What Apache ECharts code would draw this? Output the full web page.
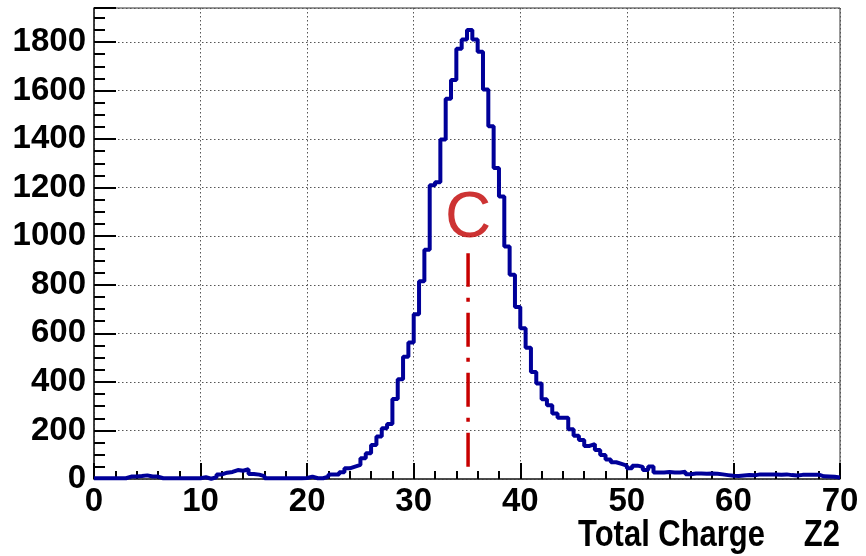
<!DOCTYPE html>
<html>
<head>
<meta charset="utf-8">
<script src="https://cdn.jsdelivr.net/npm/echarts@6/dist/echarts.min.js"></script>
<style>
html,body{margin:0;padding:0;background:#fff;}
#chart{width:866px;height:556px;}
</style>
</head>
<body>
<div id="chart"></div>
<script>
// ---- data ----
const xMin = 0;
const xMax = 70;
const binWidth = 0.5;
const counts = [
  3,3,3,3,3,3,10,10,12,15,
  10,10,3,3,3,3,3,3,3,3,
  7,1,7,19,26,29,37,34,40,21,
  18,12,3,3,3,3,3,3,3,4,
  10,3,3,10,19,19,28,44,51,58,
  85,106,140,175,209,227,330,411,504,562,
  679,814,944,1210,1222,1398,1566,1643,1772,1810,
  1849,1810,1760,1604,1453,1281,1164,958,841,708,
  621,541,441,393,328,304,270,252,252,205,
  178,161,136,144,119,99,80,69,62,55,
  44,55,50,37,51,27,27,29,27,27,
  30,20,23,23,22,23,22,19,16,13,
  12,14,16,15,19,19,19,19,18,19,
  16,14,17,18,17,18,11,10,9,6
];
const yMax = 1940;
const markerX = 35.1;
const markerRange = [50, 930];
const markerLabel = 'C';
const markerLabelY = 1070;
const xTitle = 'Total Charge';
const xUnit = 'Z2';

// ---- build ----
const histData = counts.map((v, i) => [xMin + i * binWidth, v]);
histData.push([xMax, counts[counts.length - 1]]);

const labelFont = {fontFamily: '"Liberation Sans", Arial, sans-serif', fontWeight: 'bold', fontSize: 33, color: '#000'};
const titleFont = 'bold 36px "Liberation Sans", Arial, sans-serif';

const chart = echarts.init(document.getElementById('chart'), null, {renderer: 'canvas'});
chart.setOption({
  animation: false,
  backgroundColor: '#fff',
  grid: {left: 94, right: 26, top: 8, bottom: 77, show: true, borderColor: '#333', borderWidth: 1, backgroundColor: 'transparent'},
  xAxis: {
    type: 'value', min: xMin, max: xMax, interval: 10,
    axisLine: {show: true, onZero: false, lineStyle: {color: '#333', width: 1.5}},
    axisTick: {show: true, inside: true, length: 16, lineStyle: {color: '#000', width: 2}},
    minorTick: {show: true, splitNumber: 5, length: 8, lineStyle: {color: '#000', width: 2}},
    splitLine: {show: true, lineStyle: {color: '#555', type: [1.5, 2.5], width: 1}},
    axisLabel: Object.assign({margin: 6, formatter: v => String(v)}, labelFont)
  },
  yAxis: {
    type: 'value', min: 0, max: yMax, interval: 200,
    axisLine: {show: true, lineStyle: {color: '#222', width: 1.5}},
    axisTick: {show: true, inside: true, length: 22, lineStyle: {color: '#000', width: 2}},
    minorTick: {show: true, splitNumber: 4, length: 11, lineStyle: {color: '#000', width: 2}},
    splitLine: {show: true, lineStyle: {color: '#555', type: [1.5, 2.5], width: 1}},
    axisLabel: Object.assign({margin: 8, showMaxLabel: false, formatter: v => String(v)}, labelFont)
  },
  graphic: [
    {type: 'text', x: 765, y: 518, scaleX: 0.86, style: {text: xTitle, x: 0, y: 0, textAlign: 'right', textVerticalAlign: 'top', fill: '#000', font: titleFont}},
    {type: 'text', x: 840, y: 518, scaleX: 0.86, style: {text: xUnit, x: 0, y: 0, textAlign: 'right', textVerticalAlign: 'top', fill: '#000', font: titleFont}}
  ],
  series: [
    {
      type: 'line', step: 'end', data: histData, showSymbol: false, symbol: 'none',
      lineStyle: {color: '#000099', width: 4}, z: 3
    },
    {
      type: 'line', data: [[markerX, markerRange[0]], [markerX, markerRange[1]]], symbol: 'none',
      lineStyle: {color: '#c80000', width: 3.5, type: [34, 11, 4, 11]}, z: 2
    },
    {
      type: 'scatter', data: [[markerX, markerLabelY]], symbolSize: 0,
      label: {show: true, position: 'inside', formatter: markerLabel, fontFamily: '"Liberation Sans", Arial, sans-serif', fontSize: 64, color: '#c00000'}, z: 4
    }
  ]
});
</script>
</body>
</html>
